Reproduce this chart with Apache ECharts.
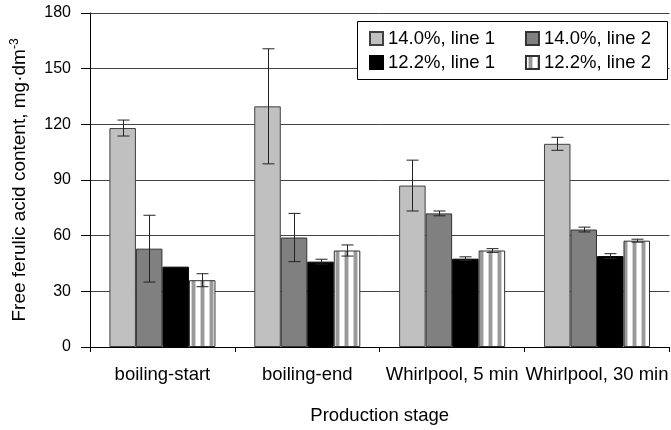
<!DOCTYPE html>
<html>
<head>
<meta charset="utf-8">
<script src="https://cdn.jsdelivr.net/npm/echarts@6/dist/echarts.min.js"></script>
<style>
  html, body { margin: 0; padding: 0; background: #fff; }
  #chart { width: 671px; height: 430px; }
</style>
</head>
<body>
<div id="chart"></div>
<script>
// stages and series
var categories = ['boiling-start', 'boiling-end', 'Whirlpool, 5 min', 'Whirlpool, 30 min'];
var seriesNames = ['14.0%, line 1', '14.0%, line 2', '12.2%, line 1', '12.2%, line 2'];

// mean values, mg/dm3
var s140line1 = [118, 129.7, 87, 109.5];
var s140line2 = [53, 59, 72, 63.3];
var s122line1 = [43.3, 46, 47.6, 49];
var s122line2 = [36, 52, 52, 57.3];

// error (+/-)
var e140line1 = [4.3, 31, 13.7, 3.5];
var e140line2 = [18, 13, 1.3, 1.3];
var e122line1 = [0, 1.3, 1, 1.3];
var e122line2 = [3.5, 3, 1, 0.8];

var yTicks = { min: 0, max: 180, interval: 30 };

var FONT = 'Liberation Sans, Arial, sans-serif';
var BAR_FRAC = 0.183;

// vertical stripe fill for the last series
function stripes() {
  var c = document.createElement('canvas');
  c.width = 9; c.height = 9;
  var ctx = c.getContext('2d');
  ctx.fillStyle = '#ffffff'; ctx.fillRect(0, 0, 9, 9);
  ctx.fillStyle = '#d0d0d0'; ctx.fillRect(2, 0, 1, 9);
  ctx.fillStyle = '#9a9a9a'; ctx.fillRect(3, 0, 3, 9);
  ctx.fillStyle = '#d0d0d0'; ctx.fillRect(6, 0, 1, 9);
  return { image: c, repeat: 'repeat' };
}

var values = [s140line1, s140line2, s122line1, s122line2];
var errors = [e140line1, e140line2, e122line1, e122line2];
var fills = ['#c0c0c0', '#808080', '#000000', stripes()];
var borders = ['#404040', '#333333', '#000000', '#303030'];

var errData = [];
for (var s = 0; s < values.length; s++) {
  for (var i = 0; i < categories.length; i++) {
    errData.push([i, values[s][i], errors[s][i], s]);
  }
}

var series = [];
for (var k = 0; k < seriesNames.length; k++) {
  series.push({
    name: seriesNames[k],
    type: 'bar',
    data: values[k],
    barWidth: (BAR_FRAC * 100) + '%',
    barGap: '0%',
    itemStyle: { color: fills[k], borderColor: borders[k], borderWidth: 1 }
  });
}

// error bars
series.push({
  type: 'custom',
  z: 3,
  silent: true,
  data: errData,
  encode: { x: 0, y: 1 },
  renderItem: function (params, api) {
    var cat = api.value(0);
    var v = api.value(1);
    var e = api.value(2);
    var idx = api.value(3);
    if (!e) return null;
    var band = api.size([1, 0])[0];
    var bw = band * BAR_FRAC;
    var top = api.coord([cat, v + e]);
    var bot = api.coord([cat, v - e]);
    var x = Math.round(top[0] + (idx - 1.5) * bw) + 0.5;
    var cap = 6;
    var st = { stroke: '#222', lineWidth: 1 };
    return {
      type: 'group',
      children: [
        { type: 'line', shape: { x1: x, y1: top[1], x2: x, y2: bot[1] }, style: st },
        { type: 'line', shape: { x1: x - cap, y1: top[1], x2: x + cap, y2: top[1] }, style: st },
        { type: 'line', shape: { x1: x - cap, y1: bot[1], x2: x + cap, y2: bot[1] }, style: st }
      ]
    };
  }
});

var legendBase = {
  left: 369,
  itemGap: 30,
  itemWidth: 13,
  itemHeight: 13,
  icon: 'rect',
  padding: 0,
  selectedMode: false,
  textStyle: { fontSize: 18.5, color: '#000', fontFamily: FONT }
};

var chart = echarts.init(document.getElementById('chart'));
chart.setOption({
  animation: false,
  backgroundColor: '#fff',
  textStyle: { fontFamily: FONT },
  grid: { left: 90, right: -2, top: 13, bottom: 83 },
  legend: [
    Object.assign({}, legendBase, { top: 29, data: [seriesNames[0], seriesNames[1]] }),
    Object.assign({}, legendBase, { top: 53, data: [seriesNames[2], seriesNames[3]] })
  ],
  graphic: [{
    type: 'rect',
    z: 3,
    shape: { x: 357.5, y: 21.5, width: 310, height: 58 },
    style: { fill: '#fff', stroke: '#000', lineWidth: 1 }
  }],
  xAxis: {
    type: 'category',
    data: categories,
    name: 'Production stage',
    nameLocation: 'middle',
    nameGap: 59,
    nameTextStyle: { fontSize: 18.5, color: '#000', fontFamily: FONT },
    axisLine: { lineStyle: { color: '#000', width: 1 } },
    axisTick: { show: true, length: 5, lineStyle: { color: '#000' } },
    axisLabel: { fontSize: 18.5, color: '#000', margin: 18, interval: 0, fontFamily: FONT }
  },
  yAxis: {
    type: 'value',
    min: yTicks.min,
    max: yTicks.max,
    interval: yTicks.interval,
    name: '{a|Free ferulic acid content, mg·dm}{s|-3}',
    nameLocation: 'middle',
    nameGap: 60,
    nameRotate: 90,
    nameTextStyle: {
      color: '#000',
      fontFamily: FONT,
      rich: {
        a: { fontSize: 19, color: '#000', fontFamily: FONT },
        s: { fontSize: 12, color: '#000', fontFamily: FONT, verticalAlign: 'top', padding: [0, 0, 9, 0] }
      }
    },
    axisLine: { show: true, lineStyle: { color: '#000', width: 1 } },
    axisTick: { show: true, length: 9, lineStyle: { color: '#000' } },
    axisLabel: { fontSize: 16, color: '#000', margin: 19, fontFamily: FONT },
    splitLine: { show: true, lineStyle: { color: '#444', width: 1 } }
  },
  series: series
});
</script>
</body>
</html>
